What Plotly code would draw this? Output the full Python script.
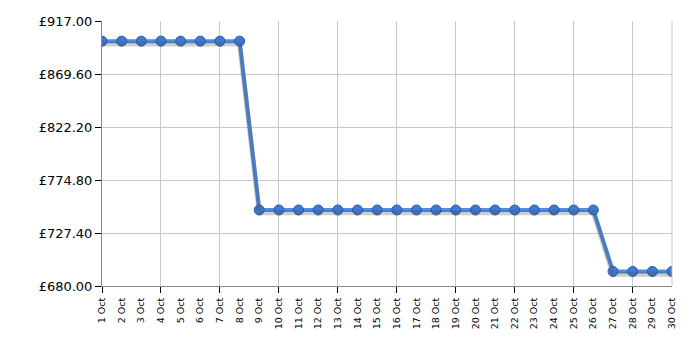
import plotly.graph_objects as go

days = list(range(1, 31))
labels = [f"{d} Oct" for d in days]
prices = [899.0] * 8 + [748.0] * 18 + [693.0] * 4
y_ticks = [680.00, 727.40, 774.80, 822.20, 869.60, 917.00]
y_tick_text = [f"£{v:.2f}" for v in y_ticks]
grid_days = days[::3]

fig = go.Figure()
# soft shadow under the line
fig.add_trace(go.Scatter(
    x=days, y=prices, mode="lines",
    line=dict(color="rgba(80,80,80,0.28)", width=5),
    hoverinfo="skip", showlegend=False, xaxis="x", yaxis="y2"))
fig.add_trace(go.Scatter(
    x=days, y=prices, mode="lines+markers",
    line=dict(color="#4d8ee6", width=4),
    marker=dict(size=10, color="#3c7ad6", line=dict(color="#2a5aa6", width=1)),
    showlegend=False, xaxis="x", yaxis="y"))
# invisible trace to carry the label axis
fig.add_trace(go.Scatter(
    x=days, y=prices, mode="markers", marker=dict(opacity=0),
    hoverinfo="skip", showlegend=False, xaxis="x2", yaxis="y"))

fig.update_layout(
    width=700, height=350,
    margin=dict(l=102, r=28, t=21, b=64),
    paper_bgcolor="white", plot_bgcolor="white",
    font=dict(family="DejaVu Sans", color="#000"),
    xaxis=dict(
        range=[1, 30], tickmode="array", tickvals=grid_days,
        showticklabels=False, ticks="outside", ticklen=6, tickcolor="#000",
        showgrid=True, gridcolor="#c8c8c8", gridwidth=1,
        showline=True, linecolor="#888", linewidth=1, zeroline=False),
    xaxis2=dict(
        overlaying="x", matches="x", side="bottom", anchor="y",
        tickmode="array", tickvals=days, ticktext=labels,
        tickangle=-90, tickfont=dict(size=9.5, family="DejaVu Sans"),
        ticks="outside", ticklen=7, tickcolor="rgba(0,0,0,0)",
        showgrid=False, zeroline=False, showline=False),
    yaxis=dict(
        range=[680, 917], tickmode="array", tickvals=y_ticks, ticktext=y_tick_text,
        tickfont=dict(size=13, family="DejaVu Sans"),
        ticks="outside", ticklen=6, tickcolor="#000",
        showgrid=True, gridcolor="#c8c8c8", gridwidth=1,
        showline=True, linecolor="#888", linewidth=1, zeroline=False),
    yaxis2=dict(
        overlaying="y", range=[680 + 2.5, 917 + 2.5], visible=False),
    shapes=[dict(type="line", xref="paper", yref="paper", x0=1, x1=1, y0=0, y1=1,
                 line=dict(color="#c8c8c8", width=1))],
)

fig.write_html("out.html")
